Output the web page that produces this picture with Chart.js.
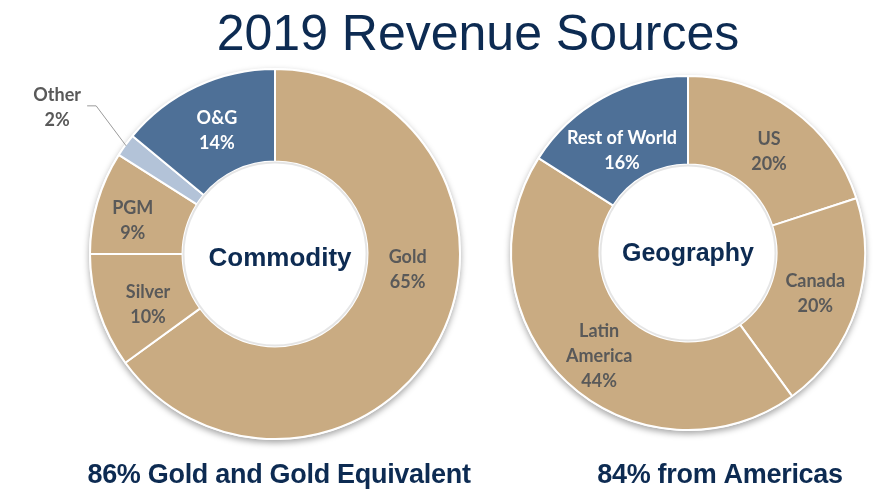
<!DOCTYPE html>
<html>
<head>
<meta charset="utf-8">
<script src="https://cdn.jsdelivr.net/npm/chart.js@4.4.1/dist/chart.umd.min.js"></script>
<style>
  html, body { margin: 0; padding: 0; background: #fff; }
  #page { position: relative; width: 877px; height: 494px; overflow: hidden; }
  canvas { position: absolute; left: 0; top: 0; }
  #title {
    position: absolute; left: 78px; top: 8px; width: 800px;
    text-align: center; font: 50px/50px "Liberation Sans", Arial, sans-serif;
    color: #0d2b52; white-space: nowrap;
  }
</style>
</head>
<body>
<div id="page">
  <div id="title"></div>
  <canvas id="commodity" width="877" height="494"></canvas>
  <canvas id="geography" width="877" height="494"></canvas>
</div>
<script>
// data
const chartTitle = '2019 Revenue Sources';
const commodityLabels = ['Gold', 'Silver', 'PGM', 'Other', 'O&G'];
const commodityValues = [65, 10, 9, 2, 14];
const geographyLabels = ['US', 'Canada', 'Latin America', 'Rest of World'];
const geographyValues = [20, 20, 44, 16];
const commodityCaption = '86% Gold and Gold Equivalent';
const geographyCaption = '84% from Americas';

// colours
const TAN = '#c9ab82';
const BLUE = '#4e7097';
const LIGHT = '#b3c3d8';
const NAVY = '#0d2b52';
const GREY = '#595959';

document.getElementById('title').textContent = chartTitle;

// draws ring shadow, labels, centre word and caption
const ringDecor = {
  id: 'ringDecor',
  beforeDatasetsDraw(chart) {
    const arc = chart.getDatasetMeta(0).data[0];
    const { x, y, outerRadius } = arc.getProps(['x', 'y', 'outerRadius'], true);
    const ctx = chart.ctx;
    ctx.save();
    ctx.shadowColor = 'rgba(0,0,0,0.35)';
    ctx.shadowBlur = 6;
    ctx.shadowOffsetY = 3;
    ctx.beginPath();
    ctx.arc(x, y, outerRadius + 1, 0, Math.PI * 2);
    ctx.fillStyle = '#fff';
    ctx.fill();
    ctx.restore();
  },
  afterDatasetsDraw(chart, args, opts) {
    const ctx = chart.ctx;
    const meta = chart.getDatasetMeta(0);
    const values = chart.data.datasets[0].data;
    const names = chart.data.labels;
    const { x, y, innerRadius, outerRadius } =
      meta.data[0].getProps(['x', 'y', 'innerRadius', 'outerRadius'], true);

    // soft edge inside the hole
    ctx.save();
    ctx.beginPath();
    ctx.arc(x, y, innerRadius - 1, 0, Math.PI * 2);
    ctx.strokeStyle = 'rgba(0,0,0,0.10)';
    ctx.lineWidth = 2;
    ctx.stroke();
    ctx.restore();

    // centre word
    ctx.save();
    ctx.font = opts.centerFont;
    ctx.fillStyle = NAVY;
    ctx.textAlign = 'center';
    ctx.textBaseline = 'middle';
    ctx.fillText(opts.centerText, x + opts.centerOffset[0], y + opts.centerOffset[1]);
    ctx.restore();

    // slice labels
    ctx.save();
    ctx.font = 'bold 18px Lato, "Open Sans", sans-serif';
    ctx.textAlign = 'center';
    ctx.textBaseline = 'middle';
    meta.data.forEach((arc, i) => {
      const lines = (opts.breaks[names[i]] || [names[i]]).concat(values[i] + '%');
      const lh = 25;
      let cx, cy;
      if (opts.outside && opts.outside.index === i) {
        const o = opts.outside;
        const p = arc.getProps(['startAngle', 'endAngle'], true);
        const a = (p.startAngle + p.endAngle) / 2;
        const ax = x + Math.cos(a) * (outerRadius - 1);
        const ay = y + Math.sin(a) * (outerRadius - 1);
        const ex = ax + o.elbow[0], ey = ay + o.elbow[1];
        ctx.beginPath();
        ctx.moveTo(ax, ay);
        ctx.lineTo(ex, ey);
        ctx.lineTo(ex - o.tail, ey);
        ctx.strokeStyle = '#9a9a9a';
        ctx.lineWidth = 1;
        ctx.stroke();
        cx = ex + o.label[0];
        cy = ey + o.label[1];
      } else {
        const p = arc.tooltipPosition(true);
        const off = opts.offsets[i] || [0, 0];
        cx = p.x + off[0];
        cy = p.y + off[1];
      }
      ctx.fillStyle = opts.textColors[i];
      const y0 = cy - (lines.length - 1) * lh / 2;
      lines.forEach((t, k) => ctx.fillText(t, cx, y0 + k * lh));
    });
    ctx.restore();

    // caption below the ring
    ctx.save();
    ctx.font = 'bold 27px "Liberation Sans", Arial, sans-serif';
    ctx.letterSpacing = '-0.3px';
    ctx.fillStyle = NAVY;
    ctx.textAlign = 'center';
    ctx.textBaseline = 'alphabetic';
    ctx.fillText(opts.caption, opts.captionPos[0], opts.captionPos[1]);
    ctx.restore();
  }
};

function ringOptions(padding, decor) {
  return {
    responsive: false,
    animation: false,
    events: [],
    cutout: '50%',
    layout: { padding: padding },
    plugins: {
      legend: { display: false },
      tooltip: { enabled: false },
      ringDecor: decor
    }
  };
}

new Chart(document.getElementById('commodity'), {
  type: 'doughnut',
  data: {
    labels: commodityLabels,
    datasets: [{
      data: commodityValues,
      backgroundColor: [TAN, TAN, TAN, LIGHT, BLUE],
      borderColor: '#ffffff',
      borderWidth: 2
    }]
  },
  options: ringOptions({ left: 89, right: 416, top: 68, bottom: 54 }, {
    centerText: 'Commodity',
    centerFont: 'bold 26px "Liberation Sans", Arial, sans-serif',
    centerOffset: [5, 5],
    caption: commodityCaption,
    captionPos: [279, 483],
    textColors: [GREY, GREY, GREY, GREY, '#ffffff'],
    offsets: [[9, -47], [5, 8], [-9, 5], null, [1, 2]],
    outside: { index: 3, elbow: [-30, -40], tail: 9, label: [-39, 2] },
    breaks: {}
  }),
  plugins: [ringDecor]
});

new Chart(document.getElementById('geography'), {
  type: 'doughnut',
  data: {
    labels: geographyLabels,
    datasets: [{
      data: geographyValues,
      backgroundColor: [TAN, TAN, TAN, BLUE],
      borderColor: '#ffffff',
      borderWidth: 2
    }]
  },
  options: ringOptions({ left: 510, right: 11, top: 75, bottom: 63 }, {
    centerText: 'Geography',
    centerFont: 'bold 25px "Liberation Sans", Arial, sans-serif',
    centerOffset: [0, 1],
    caption: geographyCaption,
    captionPos: [720, 483],
    textColors: [GREY, GREY, GREY, '#ffffff'],
    offsets: [[3, 6], [1, 0], [2, 6], [-2, 14]],
    outside: null,
    breaks: { 'Latin America': ['Latin', 'America'] }
  }),
  plugins: [ringDecor]
});
</script>
</body>
</html>
